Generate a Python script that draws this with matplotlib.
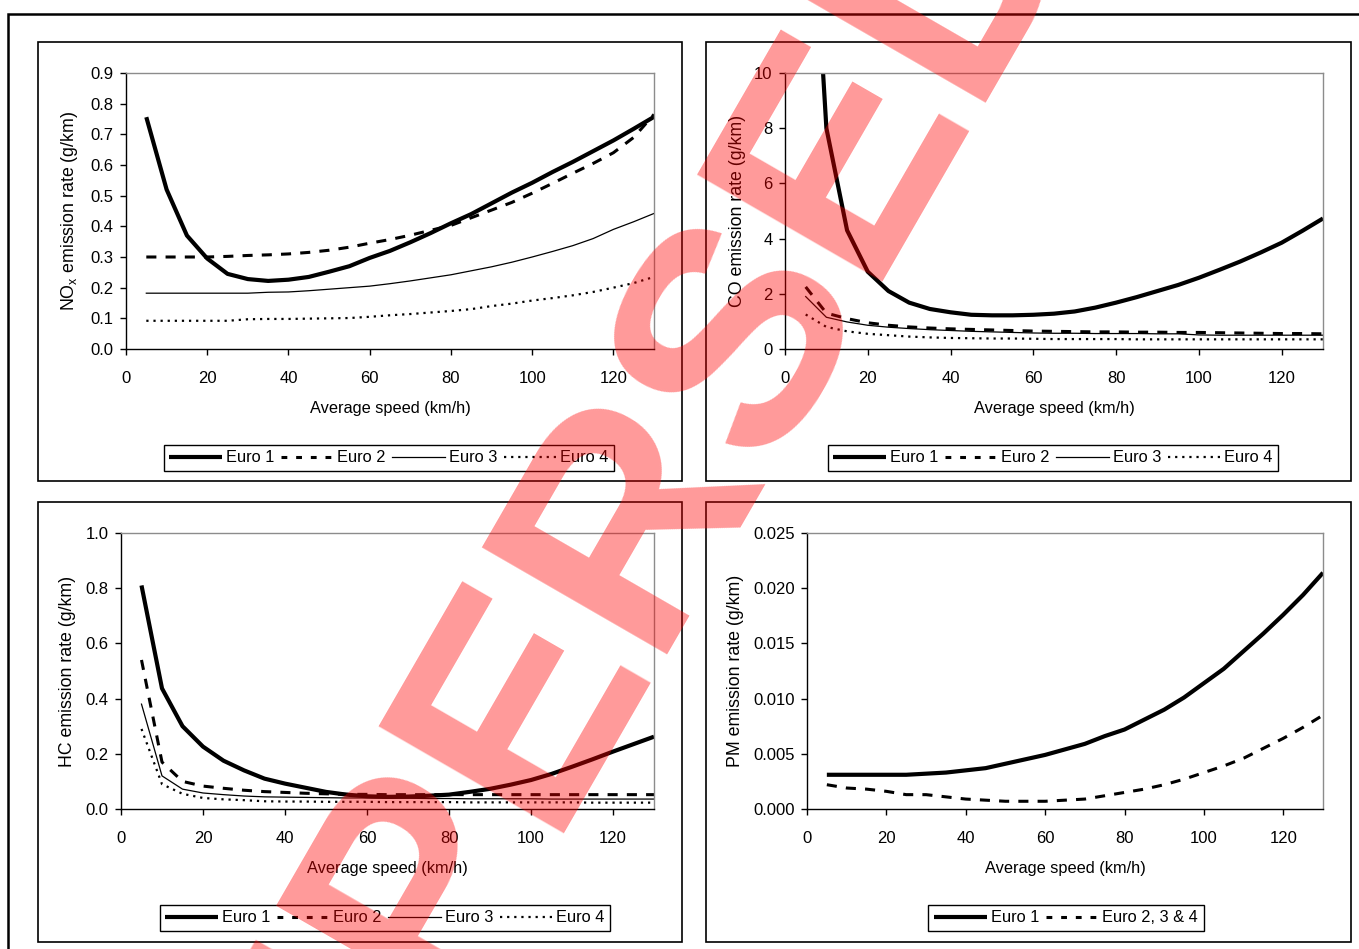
#!/usr/bin/env python3
"""Speed-dependent emission curves (NOx, CO, HC, PM) for Euro 1-4 cars."""

import matplotlib
matplotlib.use('Agg')
import matplotlib.pyplot as plt
from matplotlib.patches import Rectangle
from matplotlib.lines import Line2D
from matplotlib.ticker import FormatStrFormatter

plt.rcParams['font.family'] = ['Liberation Sans', 'DejaVu Sans']

# ── data ─────────────────────────────────────────────────────────────────
speed = [5, 10, 15, 20, 25, 30, 35, 40, 45, 50, 55, 60, 65,
         70, 75, 80, 85, 90, 95, 100, 105, 110, 115, 120, 125, 130]

nox_e1 = [0.756, 0.52, 0.37, 0.295, 0.245, 0.228, 0.222, 0.226, 0.235, 0.252, 0.27, 0.297, 0.32,
          0.348, 0.378, 0.41, 0.44, 0.475, 0.51, 0.542, 0.577, 0.61, 0.645, 0.68, 0.718, 0.757]
nox_e2 = [0.30, 0.30, 0.30, 0.30, 0.302, 0.305, 0.307, 0.31, 0.315, 0.322, 0.332, 0.345, 0.357,
          0.371, 0.387, 0.403, 0.428, 0.453, 0.478, 0.508, 0.54, 0.573, 0.605, 0.64, 0.69, 0.765]
nox_e3 = [0.182, 0.182, 0.182, 0.182, 0.182, 0.182, 0.185, 0.186, 0.19, 0.195, 0.20, 0.205, 0.213,
          0.222, 0.232, 0.242, 0.255, 0.268, 0.283, 0.30, 0.318, 0.337, 0.36, 0.39, 0.415, 0.442]
nox_e4 = [0.092, 0.092, 0.092, 0.092, 0.092, 0.097, 0.098, 0.098, 0.099, 0.10, 0.101, 0.105, 0.11,
          0.114, 0.119, 0.124, 0.13, 0.14, 0.148, 0.158, 0.166, 0.175, 0.186, 0.20, 0.215, 0.235]

co_e1 = [20.5, 8.0, 4.3, 2.8, 2.1, 1.68, 1.45, 1.33, 1.24, 1.22, 1.22, 1.24, 1.28,
         1.36, 1.5, 1.68, 1.88, 2.1, 2.32, 2.58, 2.87, 3.17, 3.5, 3.85, 4.28, 4.73]
co_e2 = [2.25, 1.30, 1.10, 0.95, 0.86, 0.80, 0.76, 0.73, 0.71, 0.69, 0.67, 0.65, 0.64,
         0.63, 0.62, 0.62, 0.61, 0.61, 0.60, 0.60, 0.59, 0.58, 0.57, 0.56, 0.56, 0.55]
co_e3 = [1.90, 1.15, 0.98, 0.86, 0.79, 0.74, 0.70, 0.67, 0.64, 0.62, 0.60, 0.58, 0.57,
         0.57, 0.56, 0.56, 0.56, 0.55, 0.55, 0.51, 0.50, 0.50, 0.50, 0.50, 0.50, 0.50]
co_e4 = [1.25, 0.80, 0.64, 0.55, 0.50, 0.45, 0.42, 0.40, 0.39, 0.38, 0.38, 0.37, 0.36,
         0.36, 0.36, 0.36, 0.35, 0.35, 0.35, 0.35, 0.35, 0.35, 0.35, 0.35, 0.35, 0.35]

hc_e1 = [0.81, 0.437, 0.30, 0.226, 0.175, 0.14, 0.11, 0.092, 0.077, 0.062, 0.052, 0.046, 0.044,
         0.045, 0.048, 0.052, 0.062, 0.073, 0.088, 0.105, 0.127, 0.153, 0.18, 0.208, 0.235, 0.262]
hc_e2 = [0.54, 0.17, 0.10, 0.083, 0.075, 0.068, 0.063, 0.06, 0.057, 0.055, 0.053, 0.053, 0.052,
         0.052, 0.052, 0.052, 0.052, 0.052, 0.052, 0.052, 0.052, 0.052, 0.052, 0.052, 0.052, 0.052]
hc_e3 = [0.38, 0.12, 0.072, 0.058, 0.052, 0.047, 0.044, 0.043, 0.042, 0.041, 0.040, 0.040, 0.039,
         0.039, 0.038, 0.038, 0.037, 0.037, 0.037, 0.037, 0.036, 0.036, 0.036, 0.036, 0.036, 0.036]
hc_e4 = [0.29, 0.09, 0.055, 0.04, 0.035, 0.032, 0.028, 0.027, 0.027, 0.026, 0.026, 0.026, 0.025,
         0.025, 0.025, 0.025, 0.024, 0.024, 0.024, 0.024, 0.024, 0.024, 0.023, 0.023, 0.023, 0.023]

pm_e1 = [0.0031, 0.0031, 0.0031, 0.0031, 0.0031, 0.0032, 0.0033, 0.0035, 0.0037, 0.0041, 0.0045,
         0.0049, 0.0054, 0.0059, 0.0066, 0.0072, 0.0081, 0.0090, 0.0101, 0.0114, 0.0127, 0.0143,
         0.0159, 0.0176, 0.0194, 0.0214]
pm_e234 = [0.0022, 0.0019, 0.0018, 0.0016, 0.0013, 0.0013, 0.0011, 0.0009, 0.0008, 0.0007, 0.0007,
           0.0007, 0.0008, 0.0009, 0.0012, 0.0015, 0.0018, 0.0022, 0.0027, 0.0033, 0.0039, 0.0046,
           0.0055, 0.0064, 0.0074, 0.0085]

euro_labels = ['Euro 1', 'Euro 2', 'Euro 3', 'Euro 4']
xticks = [0, 20, 40, 60, 80, 100, 120]

# line styles, Excel-like (plot lines / legend samples)
styles = [dict(color='black', lw=3.0, ls='-', solid_capstyle='butt'),
          dict(color='black', lw=2.2, ls=(0, (3.3, 3))),
          dict(color='black', lw=0.9, ls='-'),
          dict(color='black', lw=1.6, ls=(0, (1, 2.2)))]
leg_styles = [dict(color='black', lw=3.0, ls='-', solid_capstyle='butt'),
              dict(color='black', lw=2.2, ls=(0, (1.9, 2.9))),
              dict(color='black', lw=0.9, ls='-'),
              dict(color='black', lw=1.6, ls=(0, (1, 2.2)))]

# ── figure / pixel helpers ───────────────────────────────────────────────
W, H = 1359, 949
fig = plt.figure(figsize=(W / 100, H / 100), dpi=100)


def fx(px):
    return px / W


def fy(py):
    return 1 - py / H


def box(x0, y0, x1, y1, lw=1.2):
    fig.add_artist(Rectangle((fx(x0), fy(y1)), (x1 - x0) / W, (y1 - y0) / H,
                             fill=False, lw=lw, ec='black'))


box(8, 14, 1375, 965, lw=1.8)          # outer frame
box(38, 42, 682, 481)
box(706, 42, 1351, 481)
box(38, 502, 682, 942)
box(706, 502, 1351, 942)


def panel(rect, series, labels, ylim, yticks, yfmt, ylabel, ylab_x, xlab_y, leg_center):
    x0, y0, x1, y1 = rect
    ax = fig.add_axes([fx(x0), fy(y1), (x1 - x0) / W, (y1 - y0) / H])
    for vals, st, lab in zip(series, styles, labels):
        ax.plot(speed, vals, label=lab, **st)
    ax.set_xlim(0, 130)
    ax.set_ylim(*ylim)
    ax.set_xticks(xticks)
    ax.set_yticks(yticks)
    ax.yaxis.set_major_formatter(FormatStrFormatter(yfmt))
    ax.tick_params(direction='out', length=4, width=1, labelsize=12, color='black')
    ax.tick_params(axis='x', pad=11.5)
    ax.tick_params(axis='y', pad=5)
    for s in ['left', 'bottom']:
        ax.spines[s].set_color('black')
        ax.spines[s].set_linewidth(1.0)
    for s in ['top', 'right']:
        ax.spines[s].set_color('#8c8c8c')
        ax.spines[s].set_linewidth(1.0)

    ax.set_xlabel('Average speed (km/h)', fontsize=11.8)
    ax.xaxis.set_label_coords(0.5, (y1 - xlab_y) / (y1 - y0))
    ax.xaxis.label.set_va('center')
    ax.set_ylabel(ylabel, fontsize=12.8)
    ax.yaxis.set_label_coords((ylab_x - x0) / (x1 - x0), 0.5)
    ax.yaxis.label.set_va('center')

    handles = [Line2D([], [], **st) for st in leg_styles[:len(labels)]]
    leg = ax.legend(handles, labels, loc='center',
                    bbox_to_anchor=(fx(leg_center[0]), fy(leg_center[1])),
                    bbox_transform=fig.transFigure, ncol=len(labels), fontsize=11.8,
                    frameon=True, fancybox=False, edgecolor='black', framealpha=1,
                    borderpad=0.35, handlelength=3.2, handletextpad=0.25,
                    columnspacing=0.4, borderaxespad=0)
    leg.get_frame().set_linewidth(1.0)
    return ax


# ── NOx ──────────────────────────────────────────────────────────────────
panel((126, 73, 654, 349), [nox_e1, nox_e2, nox_e3, nox_e4], euro_labels,
      (0, 0.9), [i / 10 for i in range(10)], '%.1f',
      r'NO$_\mathregular{x}$ emission rate (g/km)', 70, 408, (389, 458))

# ── CO ───────────────────────────────────────────────────────────────────
panel((785, 73, 1323, 349), [co_e1, co_e2, co_e3, co_e4], euro_labels,
      (0, 10), [0, 2, 4, 6, 8, 10], '%d',
      'CO emission rate (g/km)', 737, 408, (1053, 458))

# ── HC ───────────────────────────────────────────────────────────────────
panel((121, 533, 654, 809), [hc_e1, hc_e2, hc_e3, hc_e4], euro_labels,
      (0, 1.0), [0, 0.2, 0.4, 0.6, 0.8, 1.0], '%.1f',
      'HC emission rate (g/km)', 67, 868, (385, 918))

# ── PM ───────────────────────────────────────────────────────────────────
panel((807, 533, 1323, 809), [pm_e1, pm_e234], ['Euro 1', 'Euro 2, 3 & 4'],
      (0, 0.025), [0, 0.005, 0.010, 0.015, 0.020, 0.025], '%.3f',
      'PM emission rate (g/km)', 735, 868, (1066, 918))

# ── watermark ────────────────────────────────────────────────────────────
fig.text(fx(765), fy(470), 'SUPERSEDED', rotation=60, rotation_mode='anchor',
         ha='center', va='baseline', fontsize=223, fontweight='bold',
         color='red', alpha=0.4, zorder=10)

plt.savefig('out.png', dpi=100)
plt.close()
print('Saved out.png')
